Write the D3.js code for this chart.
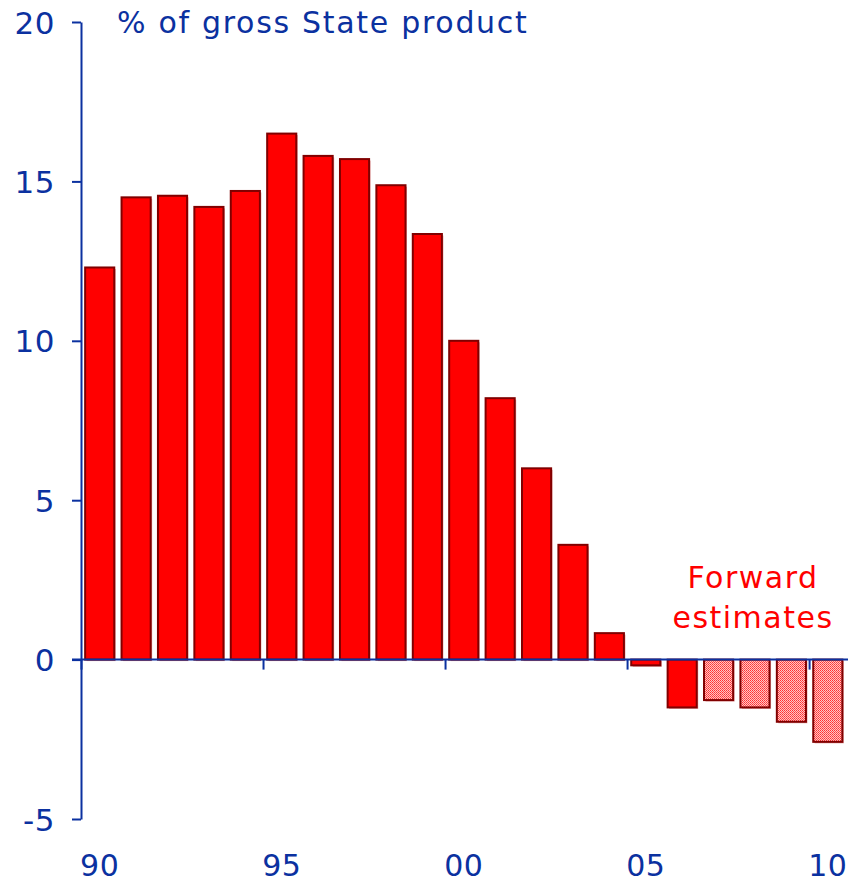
<!DOCTYPE html>
<html>
<head>
<meta charset="utf-8">
<script src="https://cdn.jsdelivr.net/npm/d3@7"></script>
<style>
    body { margin: 0; background: #fff; }
    text { font-family: "DejaVu Sans", Verdana, sans-serif; }
</style>
</head>
<body>
<div id="barChart"></div>
<script>
// chart data
var years = d3.range(1990, 2011);
var values = [12.3, 14.5, 14.55, 14.2, 14.7, 16.5, 15.8, 15.7, 14.88, 13.35,
    10.0, 8.2, 6.0, 3.6, 0.83, -0.18, -1.5, -1.27, -1.5, -1.95, -2.58];
// forward estimates (hatched bars)
var estimateYears = [2007, 2008, 2009, 2010];
var yTicks = [-5, 0, 5, 10, 15, 20];
var xTickYears = [1990, 1995, 2000, 2005, 2010];

var AXIS_COLOR = "#0b31a0";

function draw_bar_chart() {
    var windowWidth = 852;
    var windowHeight = 883;

    var data = years.map((yr, i) => ({ YEAR: yr, VALUE: values[i] }));

    var svgBase = d3.select("#barChart").append("svg")
        .attr("class", "bar_chart")
        .attr("width", windowWidth)
        .attr("height", windowHeight);

    // hatch pattern for the forward estimates
    var pat = svgBase.append("defs").append("pattern")
        .attr("id", "hatch")
        .attr("patternUnits", "userSpaceOnUse")
        .attr("width", 2)
        .attr("height", 2);
    pat.append("rect").attr("width", 2).attr("height", 2).attr("fill", "#ffc4c4");
    pat.append("rect").attr("width", 1).attr("height", 1).attr("fill", "#ff3030");
    pat.append("rect").attr("x", 1).attr("y", 1).attr("width", 1).attr("height", 1).attr("fill", "#ff5050");

    // scales
    var x = d3.scaleBand()
        .domain(years)
        .range([81.5, 846])
        .paddingInner(0.2)
        .paddingOuter(0.1);
    var y = d3.scaleLinear()
        .domain([-5, 20])
        .range([819, 22]);

    var step = x.step();
    var slotLeft = yr => x(yr) - x.paddingInner() * step / 2;

    // bar shadows
    svgBase.append("g").selectAll(".shadow")
        .data(data)
        .enter().append("rect")
        .attr("class", "shadow")
        .attr("x", d => x(d.YEAR) + 1.5)
        .attr("y", d => Math.min(y(d.VALUE), y(0)) + 1.5)
        .attr("width", x.bandwidth())
        .attr("height", d => Math.abs(y(d.VALUE) - y(0)))
        .attr("fill", "#e6a8a8");

    // bars
    svgBase.append("g").selectAll(".bar")
        .data(data)
        .enter().append("rect")
        .attr("class", "bar")
        .attr("x", d => x(d.YEAR))
        .attr("y", d => Math.min(y(d.VALUE), y(0)))
        .attr("width", x.bandwidth())
        .attr("height", d => Math.abs(y(d.VALUE) - y(0)))
        .attr("fill", d => estimateYears.includes(d.YEAR) ? "url(#hatch)" : "#ff0000")
        .attr("stroke", "#800000")
        .attr("stroke-width", 2);

    // y axis
    var yAxis = svgBase.append("g")
        .attr("class", "yticks")
        .attr("transform", "translate(81,0)")
        .call(d3.axisLeft(y).tickValues(yTicks).tickFormat(d => String(d))
            .tickSize(9).tickPadding(17).tickSizeOuter(0));
    yAxis.select(".domain").attr("stroke", AXIS_COLOR).attr("stroke-width", 2);
    yAxis.selectAll(".tick line").attr("stroke", AXIS_COLOR).attr("stroke-width", 2);
    yAxis.selectAll(".tick text")
        .attr("fill", AXIS_COLOR)
        .attr("font-size", 31)
        .attr("letter-spacing", 0.5)
        .attr("dy", "0.36em");

    // x axis along zero
    svgBase.append("line")
        .attr("x1", 72)
        .attr("x2", 848)
        .attr("y1", y(0))
        .attr("y2", y(0))
        .attr("stroke", AXIS_COLOR)
        .attr("stroke-width", 2);

    svgBase.append("g").selectAll(".xtick")
        .data(xTickYears)
        .enter().append("line")
        .attr("class", "xtick")
        .attr("x1", d => slotLeft(d))
        .attr("x2", d => slotLeft(d))
        .attr("y1", y(0))
        .attr("y2", y(0) + 10)
        .attr("stroke", AXIS_COLOR)
        .attr("stroke-width", 2);

    svgBase.append("g").selectAll(".xlabel")
        .data(xTickYears)
        .enter().append("text")
        .attr("class", "xlabel")
        .attr("x", d => x(d) + x.bandwidth() / 2)
        .attr("y", 876)
        .attr("text-anchor", "middle")
        .attr("fill", AXIS_COLOR)
        .attr("font-size", 30)
        .attr("letter-spacing", 0.5)
        .text(d => String(d).slice(2));

    // title
    svgBase.append("text")
        .attr("class", "grf_title")
        .attr("x", 117)
        .attr("y", 33)
        .attr("fill", AXIS_COLOR)
        .attr("font-size", 30)
        .attr("letter-spacing", 1.7)
        .text("% of gross State product");

    // forward estimates note
    var note = svgBase.append("text")
        .attr("x", 753)
        .attr("text-anchor", "middle")
        .attr("fill", "#ff0000")
        .attr("font-size", 30)
        .attr("letter-spacing", 1.5);
    note.append("tspan").attr("x", 753).attr("y", 588).text("Forward");
    note.append("tspan").attr("x", 753).attr("y", 628).text("estimates");
}

draw_bar_chart();
</script>
</body>
</html>
